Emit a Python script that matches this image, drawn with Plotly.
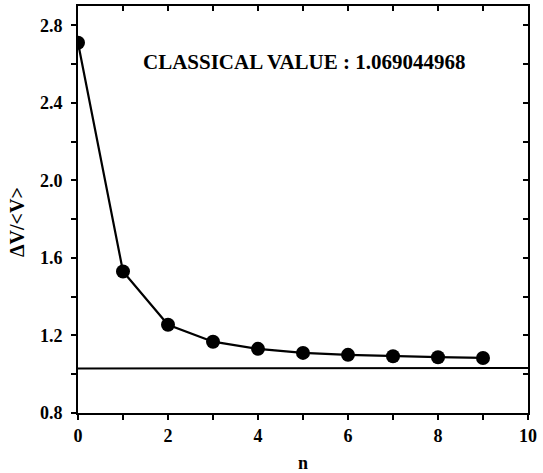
import plotly.graph_objects as go

n_vals = [0, 1, 2, 3, 4, 5, 6, 7, 8, 9]
ratio_vals = [2.71, 1.53, 1.255, 1.168, 1.131, 1.110, 1.100, 1.093, 1.088, 1.084]
classical_x = [0, 10]
classical_y = [1.03, 1.032]
annotation_text = "CLASSICAL VALUE : 1.069044968"
x_title = "n"
y_title = "ΔV/&lt;V&gt;"

FONT = "Liberation Serif, Times New Roman, serif"

fig = go.Figure()
fig.add_trace(go.Scatter(x=classical_x, y=classical_y, mode="lines",
                         line=dict(color="black", width=2), showlegend=False,
                         hoverinfo="skip"))
fig.add_trace(go.Scatter(x=n_vals, y=ratio_vals, mode="lines+markers",
                         line=dict(color="black", width=2.2),
                         marker=dict(color="black", size=14, symbol="circle"),
                         showlegend=False))
# invisible trace to activate mirror axes
fig.add_trace(go.Scatter(x=[0], y=[0.8], xaxis="x2", yaxis="y2", mode="markers",
                         marker=dict(opacity=0), showlegend=False, hoverinfo="skip"))

fig.add_annotation(x=5.02, y=2.61, xref="x", yref="y", text=annotation_text,
                   showarrow=False, font=dict(family=FONT, size=21, color="black", weight="bold"))

axis_font = dict(family=FONT, size=18, color="black", weight="bold")

# y axis title placed as annotation to match its off-centre position
fig.add_annotation(xref="paper", yref="paper", x=(17 - 78) / 450, y=(413 - 222) / 407,
                   xanchor="center", yanchor="middle", text=y_title, textangle=-90,
                   showarrow=False, font=dict(family=FONT, size=20, color="black", weight="bold"))

fig.update_layout(
    width=543, height=473,
    margin=dict(l=78, r=15, t=6, b=60, autoexpand=False),
    plot_bgcolor="white", paper_bgcolor="white",
    xaxis=dict(range=[0, 10], dtick=2, tick0=0, ticks="outside", ticklen=5, tickwidth=1.5,
               tickcolor="black", showline=True, linecolor="black", linewidth=2,
               showgrid=False, zeroline=False, tickfont=axis_font, automargin=False,
               minor=dict(dtick=1, ticks="outside", ticklen=5, tickwidth=1.5, tickcolor="black"),
               title=dict(text=x_title, font=axis_font, standoff=12)),
    yaxis=dict(range=[0.8, 2.9], dtick=0.4, tick0=0.8, tickformat=".1f", ticks="outside",
               ticklen=5, tickwidth=1.5, tickcolor="black", showline=True, linecolor="black",
               linewidth=2, showgrid=False, zeroline=False, tickfont=axis_font, automargin=False,
               ticklabelstandoff=5,
               minor=dict(dtick=0.2, ticks="outside", ticklen=5, tickwidth=1.5, tickcolor="black")),
    xaxis2=dict(range=[0, 10], overlaying="x", side="top", dtick=1, tick0=0, ticks="inside",
                ticklen=5, tickwidth=1.5, tickcolor="black", showticklabels=False,
                showline=True, linecolor="black", linewidth=2, showgrid=False, zeroline=False),
    yaxis2=dict(range=[0.8, 2.9], overlaying="y", side="right", dtick=0.2, tick0=0.8,
                ticks="inside", ticklen=5, tickwidth=1.5, tickcolor="black",
                showticklabels=False, showline=True, linecolor="black", linewidth=2,
                showgrid=False, zeroline=False),
)

fig.write_html("out.html", config={"displayModeBar": False},
               post_script="document.body.style.margin='0';document.body.style.overflow='hidden';")
